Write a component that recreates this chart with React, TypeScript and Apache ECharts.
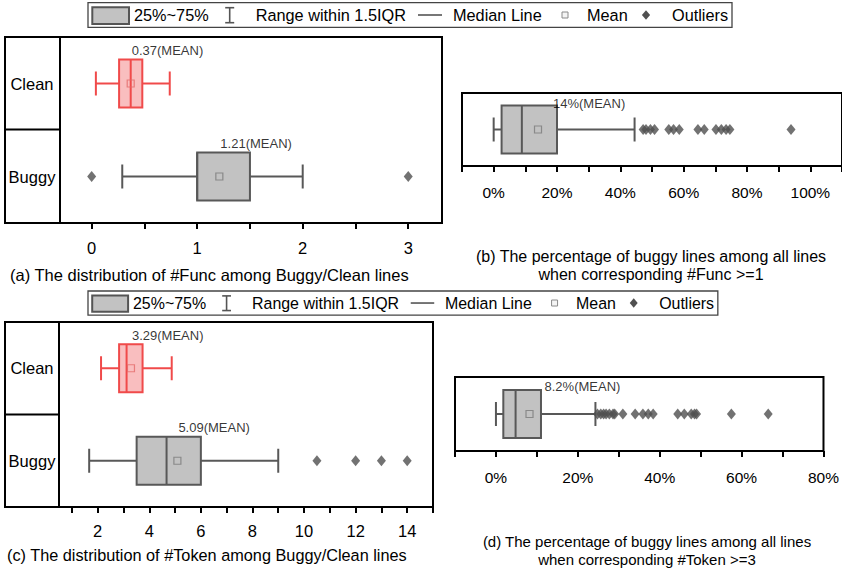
import React, { useEffect, useRef } from 'react';
import * as echarts from 'echarts';

const FONT = '"Liberation Sans", Arial, Helvetica, sans-serif';

// ---------- data ----------
// (a) #Func among Buggy/Clean lines  [min, Q1, median, Q3, max]
const funcCats = ['Buggy', 'Clean'];
const funcCleanBox = [0.04, 0.26, 0.37, 0.48, 0.74];
const funcBuggyBox = [0.29, 1.0, 1.0, 1.5, 2.0];
const funcMeans = [1.21, 0.37]; // Buggy, Clean
const funcBuggyOutliers = [0, 3];
const funcTickLabels = [0, 1, 2, 3];
const funcTicks = [0, 0.5, 1, 1.5, 2, 2.5, 3];

// (b) percentage of buggy lines, #Func >= 1
const pctCats = ['All'];
const pctFuncBox = [0, 2.5, 8.9, 20, 44.5];
const pctFuncMean = [14];
const pctFuncOutliers = [47.2, 48.1, 49.5, 50.8, 55.3, 56.8, 58.6, 64.5, 66.5, 70.2, 71.9, 73.4, 74.6, 93.9];
const pctFuncTickLabels = [0, 20, 40, 60, 80, 100];
const pctFuncTicks = [-10, 0, 10, 20, 30, 40, 50, 60, 70, 80, 90, 100, 110];

// (c) #Token among Buggy/Clean lines
const tokenCats = ['Buggy', 'Clean'];
const tokenCleanBox = [2.13, 2.83, 3.12, 3.74, 4.87];
const tokenBuggyBox = [1.67, 3.51, 4.67, 6.0, 9.0];
const tokenMeans = [5.09, 3.29]; // Buggy, Clean
const tokenBuggyOutliers = [10.5, 12, 13, 14];
const tokenTickLabels = [2, 4, 6, 8, 10, 12, 14];
const tokenTicks = [1, 2, 3, 4, 5, 6, 7, 8, 9, 10, 11, 12, 13, 14, 15];

// (d) percentage of buggy lines, #Token >= 3
const pctTokenBox = [0, 1.8, 4.8, 11, 24.3];
const pctTokenMean = [8.2];
const pctTokenOutliers = [24.8, 25.6, 26.3, 26.9, 27.7, 28.6, 29, 31, 34, 35.9, 37.2, 38.4, 44.4, 46, 47.7, 48.5, 49, 57.5, 66.5];
const pctTokenTickLabels = [0, 20, 40, 60, 80];
const pctTokenTicks = [-10, 0, 10, 20, 30, 40, 50, 60, 70, 80];

const legendLabels = ['25%~75%', 'Range within 1.5IQR', 'Median Line', 'Mean', 'Outliers'];
const captionA = '(a) The distribution of #Func among Buggy/Clean lines';
const captionB = '(b) The percentage of buggy lines among all lines\nwhen corresponding #Func >=1';
const captionC = '(c) The distribution of #Token among Buggy/Clean lines';
const captionD = '(d) The percentage of buggy lines among all lines\nwhen corresponding #Token >=3';

// ---------- styles ----------
const GREY = { stroke: '#585858', fill: '#c2c2c2', mean: '#7a7a7a' };
const RED = { stroke: '#F04A4A', fill: '#F9BEBF', mean: '#E46A6A' };
const styleFor = (cat: string) => (cat === 'Clean' ? RED : GREY);
const BOX_H = 48;
const CAP_H = 24;
const LW = 2;

function grid(left: number, top: number, width: number, height: number) {
  return { left, top, width, height, show: true, borderColor: '#000', borderWidth: 2, backgroundColor: 'transparent', containLabel: false };
}

function xAxis(gridIndex: number, min: number, max: number, ticks: number[], labels: number[], fmt: (v: number) => string, margin: number, fontSize: number) {
  return {
    type: 'value', gridIndex, min, max,
    axisLine: { show: false },
    splitLine: { show: false },
    axisTick: { show: true, inside: false, length: 6, lineStyle: { color: '#000', width: 2 }, customValues: ticks },
    axisLabel: { show: true, customValues: labels, formatter: (v: number) => fmt(v), margin, fontSize, color: '#000', fontFamily: FONT },
  };
}

function yAxis(gridIndex: number, cats: string[], showLabel: boolean, margin: number) {
  return {
    type: 'category', gridIndex, data: cats,
    axisLine: { show: false }, axisTick: { show: false }, splitLine: { show: false },
    axisLabel: { show: showLabel, align: 'center', margin, fontSize: 16.5, color: '#000', fontFamily: FONT },
  };
}

function boxSeries(idx: number, cats: string[], rows: { cat: string; box: number[] }[]) {
  return {
    type: 'custom', xAxisIndex: idx, yAxisIndex: idx, z: 2,
    data: rows.map((r) => [cats.indexOf(r.cat), ...r.box]),
    encode: { x: [1, 2, 3, 4, 5], y: 0 },
    renderItem: (params: any, api: any) => {
      const c = api.value(0);
      const st = styleFor(cats[c]);
      const p = [1, 2, 3, 4, 5].map((i) => api.coord([api.value(i), c]));
      const y = p[0][1];
      const ls = { stroke: st.stroke, lineWidth: LW };
      return {
        type: 'group',
        children: [
          { type: 'line', shape: { x1: p[0][0], y1: y, x2: p[1][0], y2: y }, style: ls },
          { type: 'line', shape: { x1: p[3][0], y1: y, x2: p[4][0], y2: y }, style: ls },
          { type: 'line', shape: { x1: p[0][0], y1: y - CAP_H / 2, x2: p[0][0], y2: y + CAP_H / 2 }, style: ls },
          { type: 'line', shape: { x1: p[4][0], y1: y - CAP_H / 2, x2: p[4][0], y2: y + CAP_H / 2 }, style: ls },
          { type: 'rect', shape: { x: p[1][0], y: y - BOX_H / 2, width: p[3][0] - p[1][0], height: BOX_H }, style: { fill: st.fill, stroke: st.stroke, lineWidth: LW } },
          { type: 'line', shape: { x1: p[2][0], y1: y - BOX_H / 2, x2: p[2][0], y2: y + BOX_H / 2 }, style: ls },
        ],
      };
    },
  };
}

function outlierSeries(idx: number, cat: string, vals: number[]) {
  return {
    type: 'scatter', xAxisIndex: idx, yAxisIndex: idx, z: 3,
    symbol: 'diamond', symbolSize: [9, 11],
    itemStyle: { color: '#4f4f4f' },
    data: vals.map((v) => [v, cat]),
  };
}

function meanSeries(idx: number, cats: string[], means: number[], fmt: (v: number) => string, dx: number, dy: number) {
  return {
    type: 'scatter', xAxisIndex: idx, yAxisIndex: idx, z: 4,
    symbol: 'rect', symbolSize: 7,
    data: means.map((v, i) => ({
      value: [v, cats[i]],
      itemStyle: { color: 'rgba(255,255,255,0)', borderColor: styleFor(cats[i]).mean, borderWidth: 1.2 },
    })),
    label: {
      show: true, position: 'inside', align: 'left', verticalAlign: 'middle', offset: [dx, dy],
      formatter: (p: any) => fmt(p.value[0]) + '(MEAN)',
      fontSize: 13, color: '#000', fontFamily: FONT,
    },
  };
}

function legend(x0: number, y0: number, s: number) {
  const cy = y0 + 12.3 * s;
  const fs = 16.3 * s;
  const txt = (t: string, x: number) => ({
    type: 'text', x: x0 + x * s, y: cy,
    style: { text: t, fontSize: fs, fontFamily: FONT, fill: '#000', verticalAlign: 'middle', align: 'left' },
  });
  const dark = '#555';
  const d = 4.8 * s;
  const dcx = x0 + 558 * s;
  return [
    { type: 'rect', shape: { x: x0, y: y0, width: 644 * s, height: 24.6 * s }, style: { fill: '#fff', stroke: '#444', lineWidth: 1.3 } },
    { type: 'rect', shape: { x: x0 + 4.3 * s, y: y0 + 4.6 * s, width: 36.7 * s, height: 16.7 * s }, style: { fill: '#c2c2c2', stroke: dark, lineWidth: 2 } },
    txt(legendLabels[0], 46),
    { type: 'line', shape: { x1: x0 + 141.7 * s, y1: y0 + 5 * s, x2: x0 + 141.7 * s, y2: y0 + 20 * s }, style: { stroke: dark, lineWidth: 1.6 } },
    { type: 'line', shape: { x1: x0 + 137.2 * s, y1: y0 + 5 * s, x2: x0 + 146.2 * s, y2: y0 + 5 * s }, style: { stroke: dark, lineWidth: 1.6 } },
    { type: 'line', shape: { x1: x0 + 137.2 * s, y1: y0 + 20 * s, x2: x0 + 146.2 * s, y2: y0 + 20 * s }, style: { stroke: dark, lineWidth: 1.6 } },
    txt(legendLabels[1], 167.7),
    { type: 'line', shape: { x1: x0 + 330 * s, y1: cy, x2: x0 + 354 * s, y2: cy }, style: { stroke: dark, lineWidth: 1.6 } },
    txt(legendLabels[2], 365),
    { type: 'rect', shape: { x: x0 + 474 * s, y: cy - 3, width: 6, height: 6 }, style: { fill: '#f4f4f4', stroke: '#8a8a8a', lineWidth: 1 } },
    txt(legendLabels[3], 499),
    { type: 'polygon', shape: { points: [[dcx, cy - d], [dcx + d * 0.85, cy], [dcx, cy + d], [dcx - d * 0.85, cy]] }, style: { fill: '#505050' } },
    txt(legendLabels[4], 584),
  ];
}

function caption(text: string, x: number, y: number, align: string, fs: number) {
  return {
    type: 'text', x, y,
    style: { text, fontSize: fs, fontFamily: FONT, fill: '#000', align, verticalAlign: 'middle', lineHeight: 18 },
  };
}

function labelColumn(x: number, top: number, w: number, h: number, divY: number) {
  return [
    { type: 'rect', shape: { x, y: top, width: w, height: h }, style: { fill: 'none', stroke: '#000', lineWidth: 2 } },
    { type: 'line', shape: { x1: x, y1: divY, x2: x + w, y2: divY }, style: { stroke: '#000', lineWidth: 2 } },
  ];
}

export default function App() {
  const ref = useRef<HTMLDivElement>(null);
  useEffect(() => {
    if (!ref.current) return;
    const chart = echarts.init(ref.current, undefined, { renderer: 'svg' });
    const fmtNum = (v: number) => String(v);
    const fmtPct = (v: number) => v + '%';
    chart.setOption({
      animation: false,
      backgroundColor: '#fff',
      textStyle: { fontFamily: FONT },
      grid: [
        grid(60, 37, 382, 186),
        grid(462, 93, 381, 73),
        grid(59, 322, 374, 185),
        grid(455, 377, 372, 74),
      ],
      xAxis: [
        xAxis(0, -0.3, 3.32, funcTicks, funcTickLabels, fmtNum, 16, 16.5),
        xAxis(1, -10, 110, pctFuncTicks, pctFuncTickLabels, fmtPct, 18, 15.5),
        xAxis(2, 0.5, 15, tokenTicks, tokenTickLabels, fmtNum, 15, 16.5),
        xAxis(3, -10, 80, pctTokenTicks, pctTokenTickLabels, fmtPct, 18, 15.5),
      ],
      yAxis: [
        yAxis(0, funcCats, true, 28),
        yAxis(1, pctCats, false, 0),
        yAxis(2, tokenCats, true, 27),
        yAxis(3, pctCats, false, 0),
      ],
      series: [
        boxSeries(0, funcCats, [{ cat: 'Clean', box: funcCleanBox }, { cat: 'Buggy', box: funcBuggyBox }]),
        outlierSeries(0, 'Buggy', funcBuggyOutliers),
        meanSeries(0, funcCats, funcMeans, (v) => v.toFixed(2), 1, -33),

        boxSeries(1, pctCats, [{ cat: 'All', box: pctFuncBox }]),
        outlierSeries(1, 'All', pctFuncOutliers),
        meanSeries(1, pctCats, pctFuncMean, (v) => v + '%', 15, -26),

        boxSeries(2, tokenCats, [{ cat: 'Clean', box: tokenCleanBox }, { cat: 'Buggy', box: tokenBuggyBox }]),
        outlierSeries(2, 'Buggy', tokenBuggyOutliers),
        meanSeries(2, tokenCats, tokenMeans, (v) => v.toFixed(2), 1, -33),

        boxSeries(3, pctCats, [{ cat: 'All', box: pctTokenBox }]),
        outlierSeries(3, 'All', pctTokenOutliers),
        meanSeries(3, pctCats, pctTokenMean, (v) => v + '%', 15, -28),
      ],
      graphic: [
        ...legend(88, 2.7, 1),
        ...legend(88, 291, 0.978),
        ...labelColumn(5, 37, 55, 186, 129.5),
        ...labelColumn(5, 322, 54, 185, 414.5),
        caption(captionA, 10, 275, 'left', 16.5),
        caption(captionB, 651, 265, 'center', 16),
        caption(captionC, 7, 555, 'left', 16.3),
        caption(captionD, 647, 550, 'center', 15),
      ],
    });
    return () => chart.dispose();
  }, []);
  return <div ref={ref} style={{ position: 'fixed', left: 0, top: 0, width: 842, height: 570, background: '#fff' }} />;
}
